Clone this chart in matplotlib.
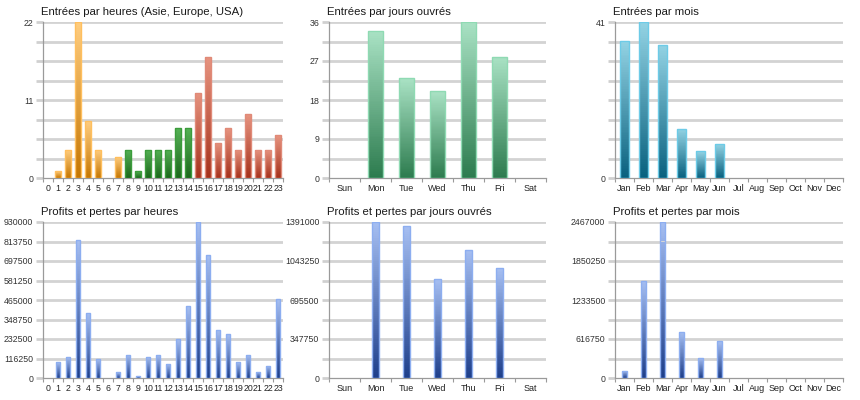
import numpy as np
import matplotlib
matplotlib.use("Agg")
import matplotlib.pyplot as plt
from matplotlib.colors import LinearSegmentedColormap

# ---- data ----
hours = [str(h) for h in range(24)]
entries_hours = [0, 1, 4, 22, 8, 4, 0, 3, 4, 1, 4, 4, 4, 7, 7, 12, 17, 5, 7, 4, 9, 4, 4, 6]
profit_hours = [0, 95400, 127000, 824600, 387500, 113300, 0, 33800, 139100, 13900,
                125200, 137100, 85400, 232500, 427200, 930000, 735200, 288100,
                260300, 95400, 139100, 37800, 73500, 470900]
days = ["Sun", "Mon", "Tue", "Wed", "Thu", "Fri", "Sat"]
entries_days = [0, 34, 23, 20, 36, 28, 0]
profit_days = [0, 1391000, 1352400, 882700, 1144300, 977900, 0]
months = ["Jan", "Feb", "Mar", "Apr", "May", "Jun", "Jul", "Aug", "Sep", "Oct", "Nov", "Dec"]
entries_months = [36, 41, 35, 13, 7, 9, 0, 0, 0, 0, 0, 0]
profit_months = [116000, 1539300, 2467000, 727500, 321600, 579900, 0, 0, 0, 0, 0, 0]

# region of each hour (Asia / Europe / USA)
regions = ["asia"] * 8 + ["europe"] * 7 + ["usa"] * 9

GRAD = {
    "asia": ("#ffcd80", "#c47500", "#ffbf5e"),
    "europe": ("#55b155", "#1b661b", "#3c9c3c"),
    "usa": ("#e6937f", "#a5301a", "#e08a78"),
    "days": ("#a9e2c4", "#2c7b4e", "#8fdab3"),
    "months": ("#93d3e4", "#08607e", "#6dcbe7"),
    "blue": ("#a6bff2", "#1d3e8a", "#8daef0"),
}

FONT = ["Liberation Sans", "DejaVu Sans"]

fig = plt.figure(figsize=(8.6, 4.0), dpi=100)
fig.patch.set_facecolor("white")

W, H = 860, 400
def rect(x0, y0, x1, y1):
    return [x0 / W, 1 - y1 / H, (x1 - x0) / W, (y1 - y0) / H]

cols = [(43, 283), (329, 546), (615, 843)]
rows = [(22, 178), (222, 378)]

NSLICE = 80


def grad_bars(ax, xs, vals, width, keys):
    vals = np.asarray(vals, dtype=float)
    cmaps = [LinearSegmentedColormap.from_list("g", [GRAD[k][1], GRAD[k][0]]) for k in keys]
    for j in range(NSLICE):
        t = (j + 0.5) / NSLICE
        cols_j = [cm(t) for cm in cmaps]
        ax.bar(xs, vals / NSLICE, bottom=vals * j / NSLICE, width=width,
               color=cols_j, linewidth=0, zorder=5, antialiased=False)
    outline = ax.bar(xs, vals, width=width, facecolor="none",
                     edgecolor=[GRAD[k][2] for k in keys], linewidth=1.0, zorder=6)
    for b, v in zip(outline, vals):
        if v <= 0:
            b.set_visible(False)


def style(ax, title, cats, ymax, label_every, fs_x=6.5):
    n = len(cats)
    ax.set_xlim(-0.5, n - 0.5)
    ax.set_ylim(0, ymax)
    yt = [ymax * i / 8 for i in range(9)]
    ax.set_yticks(yt)
    labs = []
    for i, v in enumerate(yt):
        labs.append(f"{int(round(v))}" if i % label_every == 0 else "")
    ax.set_yticklabels(labs, fontsize=6.3, color="#333333", family=FONT)
    ax.set_xticks(range(n))
    ax.set_xticklabels(cats, fontsize=fs_x, color="#222222", family=FONT)
    ax.set_xticks([i - 0.5 for i in range(n + 1)], minor=True)
    ax.tick_params(axis="x", which="major", length=0, pad=4)
    ax.tick_params(axis="x", which="minor", length=3, color="#999999", width=0.8)
    ax.tick_params(axis="y", length=5, width=2, color="#d0d0d0", pad=2)
    for yv in yt[1:]:
        ax.axhline(yv, color="#d3d3d3", lw=2, zorder=1)
    for s in ["top", "right"]:
        ax.spines[s].set_visible(False)
    ax.spines["left"].set_color("#9a9a9a")
    ax.spines["bottom"].set_color("#9a9a9a")
    ax.spines["left"].set_linewidth(0.9)
    ax.spines["bottom"].set_linewidth(0.9)
    ax.set_title(title, loc="left", fontsize=8.2, color="#1a1a1a", pad=5,
                 x=-0.01, family=FONT)
    ax.set_facecolor("white")


# top row
ax = fig.add_axes(rect(cols[0][0], rows[0][0], cols[0][1], rows[0][1]))
grad_bars(ax, range(24), entries_hours, 0.65, regions)
style(ax, "Entrées par heures (Asie, Europe, USA)", hours, max(entries_hours), 4, fs_x=6.3)

ax = fig.add_axes(rect(cols[1][0], rows[0][0], cols[1][1], rows[0][1]))
grad_bars(ax, range(7), entries_days, 0.5, ["days"] * 7)
style(ax, "Entrées par jours ouvrés", days, max(entries_days), 2)

ax = fig.add_axes(rect(cols[2][0], rows[0][0], cols[2][1], rows[0][1]))
grad_bars(ax, range(12), entries_months, 0.52, ["months"] * 12)
style(ax, "Entrées par mois", months, max(entries_months), 8)

# bottom row
ax = fig.add_axes(rect(cols[0][0], rows[1][0], cols[0][1], rows[1][1]))
grad_bars(ax, range(24), profit_hours, 0.42, ["blue"] * 24)
style(ax, "Profits et pertes par heures", hours, max(profit_hours), 1, fs_x=6.3)

ax = fig.add_axes(rect(cols[1][0], rows[1][0], cols[1][1], rows[1][1]))
grad_bars(ax, range(7), profit_days, 0.22, ["blue"] * 7)
style(ax, "Profits et pertes par jours ouvrés", days, max(profit_days), 2)

ax = fig.add_axes(rect(cols[2][0], rows[1][0], cols[2][1], rows[1][1]))
grad_bars(ax, range(12), profit_months, 0.22, ["blue"] * 12)
style(ax, "Profits et pertes par mois", months, max(profit_months), 2)

fig.savefig("out.png", dpi=100, facecolor="white")
